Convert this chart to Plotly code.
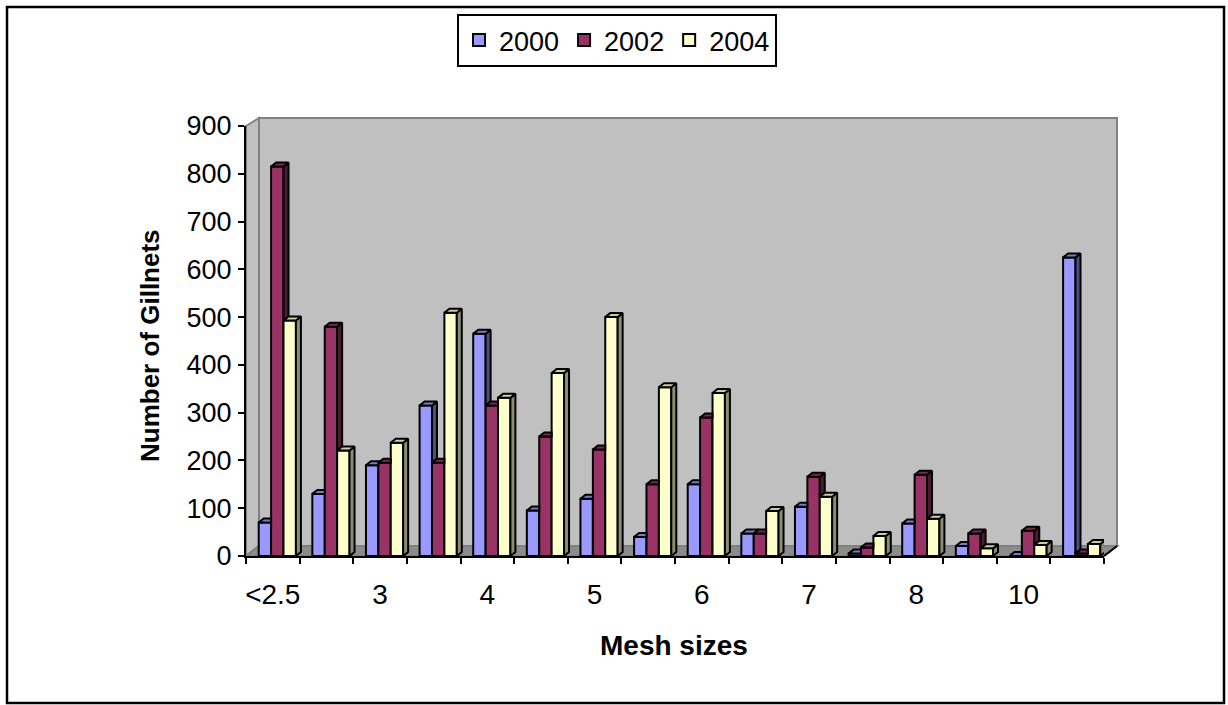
import plotly.graph_objects as go

# Mesh-size classes (every other one is labelled on the axis)
categories = ["<2.5", "2.5", "3", "3.5", "4", "4.5", "5", "5.5",
              "6", "6.5", "7", "7.5", "8", "9", "10", ">10"]
years = ["2000", "2002", "2004"]

gillnets_2000 = [70, 130, 190, 315, 465, 95, 120, 40, 150, 47, 103, 5, 68, 21, 0, 625]
gillnets_2002 = [815, 480, 195, 195, 315, 250, 223, 150, 290, 47, 166, 18, 170, 47, 53, 5]
gillnets_2004 = [493, 221, 237, 509, 331, 383, 500, 353, 341, 94, 124, 42, 78, 16, 23, 25]

y_ticks = [0, 100, 200, 300, 400, 500, 600, 700, 800, 900]

series = [gillnets_2000, gillnets_2002, gillnets_2004]
front_colors = ["#9999FF", "#993366", "#FFFFCC"]
top_colors = ["#7A7ACC", "#7A2952", "#CCCCA3"]
side_colors = ["#4D4D80", "#4D1A33", "#8C8C70"]

# Page and plot-frame geometry in pixels
W, H = 1228, 705
L, R, T, B = 246, 1104, 126, 556
n_cat = len(categories)
cat_px = (R - L) / n_cat
unit_px = (B - T) / 900.0

bar_w = 12.4 / cat_px          # bar width in category units
shift = 4.5 / cat_px           # bars sit a little behind the front edge
dx = 5.0 / cat_px              # bar depth, horizontal component
dy = 4.0 / unit_px             # bar depth, vertical component

def px_x(p):
    return (p - L) / (R - L)

def px_y(p):
    return (B - p) / (B - T)

FONT = "Liberation Sans, Arial, sans-serif"
fig = go.Figure()

positions = list(range(n_cat))

# Front faces of the bars
for s, (name, vals) in enumerate(zip(years, series)):
    fig.add_trace(go.Bar(
        x=positions, y=vals, name=name,
        width=bar_w, offset=shift - 1.5 * bar_w + s * bar_w,
        marker=dict(color=front_colors[s], line=dict(color="black", width=2)),
        hoverinfo="skip",
    ))

# Side and top faces, trimmed where the neighbouring bar hides them
for s, vals in enumerate(series):
    nxt = series[s + 1] if s + 1 < len(series) else None
    sx, sy, tx, ty = [], [], [], []
    for i, v in enumerate(vals):
        x0 = i + shift - 1.5 * bar_w + s * bar_w
        x1 = x0 + bar_w
        vn = nxt[i] if nxt is not None else 0
        lo = 0 if nxt is None else vn
        if lo < v:
            sx += [x1, x1 + dx, x1 + dx, x1, x1, None]
            sy += [lo, lo + dy, v + dy, v, lo, None]
        if nxt is not None and vn >= v + dy:
            # right part of the top hidden behind the taller neighbour
            tx += [x0, x0 + dx, x1, x1, x0, None]
            ty += [v, v + dy, v + dy, v, v, None]
        elif nxt is not None and vn > v:
            xa = x1 + (vn - v) / dy * dx
            tx += [x0, x0 + dx, x1 + dx, xa, x1, x1, x0, None]
            ty += [v, v + dy, v + dy, vn, vn, v, v, None]
        else:
            tx += [x0, x0 + dx, x1 + dx, x1, x0, None]
            ty += [v, v + dy, v + dy, v, v, None]
    fig.add_trace(go.Scatter(
        x=sx, y=sy, mode="lines", fill="toself", fillcolor=side_colors[s],
        line=dict(color="black", width=2), showlegend=False,
        hoverinfo="skip", cliponaxis=False,
    ))
    fig.add_trace(go.Scatter(
        x=tx, y=ty, mode="lines", fill="toself", fillcolor=top_colors[s],
        line=dict(color="black", width=2), showlegend=False,
        hoverinfo="skip", cliponaxis=False,
    ))

# Walls and floor of the 3-D box
depth_x, depth_y = 13, 10
wall_l, wall_r = L + depth_x, R + depth_x
wall_t, wall_b = T - 8, B - depth_y
shapes = [
    # back wall
    dict(type="rect", xref="paper", yref="paper",
         x0=px_x(wall_l), x1=px_x(wall_r), y0=px_y(wall_b), y1=px_y(wall_t),
         fillcolor="#C0C0C0", line=dict(color="#808080", width=2), layer="below"),
    # side wall
    dict(type="path", xref="paper", yref="paper",
         path=f"M{px_x(L)},{px_y(T)} L{px_x(wall_l)},{px_y(wall_t)} "
              f"L{px_x(wall_l)},{px_y(wall_b)} L{px_x(L)},{px_y(B)} Z",
         fillcolor="#C0C0C0", line=dict(color="#808080", width=2), layer="below"),
    # floor
    dict(type="path", xref="paper", yref="paper",
         path=f"M{px_x(L)},{px_y(B)} L{px_x(wall_l)},{px_y(wall_b)} "
              f"L{px_x(wall_r)},{px_y(wall_b)} L{px_x(R)},{px_y(B)} Z",
         fillcolor="#8C8C8C", line=dict(color="#808080", width=2), layer="below"),
    # right edge of the floor
    dict(type="line", xref="paper", yref="paper",
         x0=px_x(R), y0=px_y(B), x1=px_x(wall_r), y1=px_y(wall_b),
         line=dict(color="black", width=2)),
    # chart border
    dict(type="rect", xref="paper", yref="paper",
         x0=px_x(7), x1=px_x(1224), y0=px_y(703), y1=px_y(7),
         line=dict(color="black", width=2.5), fillcolor="rgba(0,0,0,0)"),
]

fig.update_layout(
    width=W, height=H,
    margin=dict(l=L, r=W - R, t=T, b=H - B, pad=0),
    paper_bgcolor="white", plot_bgcolor="rgba(0,0,0,0)",
    barmode="overlay",
    shapes=shapes,
    font=dict(family=FONT, color="black"),
    showlegend=True,
    legend=dict(
        orientation="h", x=px_x(457), y=px_y(14), xanchor="left", yanchor="top",
        bgcolor="white", bordercolor="black", borderwidth=2,
        font=dict(family=FONT, size=27, color="black"),
    ),
    xaxis=dict(
        range=[-0.5, n_cat - 0.5], showgrid=False, zeroline=False,
        showline=True, linecolor="black", linewidth=2,
        tickmode="array", tickvals=positions[::2], ticktext=categories[::2],
        ticks="", tickfont=dict(family=FONT, size=28, color="black"),
        ticklabelstandoff=12,
        minor=dict(tickmode="array", tickvals=[p - 0.5 for p in positions] + [n_cat - 0.5],
                   ticks="outside", ticklen=6, tickwidth=2, tickcolor="black", showgrid=False),
    ),
    yaxis=dict(
        range=[0, 900], showgrid=False, zeroline=False,
        showline=True, linecolor="black", linewidth=2,
        tickmode="array", tickvals=y_ticks,
        ticks="outside", ticklen=6, tickwidth=2, tickcolor="black",
        tickfont=dict(family=FONT, size=27, color="black"),
        ticklabelstandoff=1,
    ),
    annotations=[
        dict(text="<b>Number of Gillnets</b>", textangle=-90, showarrow=False,
             xref="paper", yref="paper", x=px_x(150), y=px_y(346),
             xanchor="center", yanchor="middle",
             font=dict(family=FONT, size=26, color="black")),
        dict(text="<b>Mesh sizes</b>", showarrow=False,
             xref="paper", yref="paper", x=px_x(674), y=px_y(645),
             xanchor="center", yanchor="middle",
             font=dict(family=FONT, size=28, color="black")),
    ],
)

fig.write_html("out.html")
